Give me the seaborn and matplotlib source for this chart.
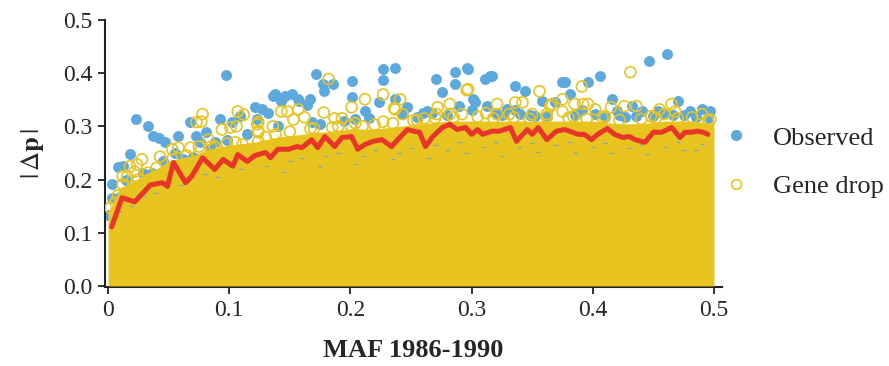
import numpy as np
import pandas as pd
import matplotlib
matplotlib.use('Agg')
import matplotlib.pyplot as plt
import seaborn as sns
from matplotlib.lines import Line2D

BLUE = '#5DA9DD'
YELLOW = '#E8C420'
RED = '#E8352A'

# mean |dp| of gene drop per MAF bin (red line)
mean_x = [0.003, 0.0115, 0.022, 0.035, 0.045, 0.049, 0.054, 0.064, 0.069, 0.078,
          0.088, 0.095, 0.103, 0.107, 0.115, 0.121, 0.130, 0.134, 0.140, 0.149,
          0.156, 0.160, 0.168, 0.173, 0.179, 0.187, 0.193, 0.201, 0.206, 0.212,
          0.219, 0.226, 0.234, 0.239, 0.247, 0.252, 0.257, 0.262, 0.268, 0.276,
          0.282, 0.288, 0.295, 0.300, 0.305, 0.309, 0.317, 0.323, 0.332, 0.337,
          0.346, 0.350, 0.355, 0.362, 0.370, 0.377, 0.388, 0.393, 0.399, 0.404,
          0.412, 0.418, 0.425, 0.430, 0.435, 0.443, 0.450, 0.457, 0.465, 0.472,
          0.476, 0.482, 0.486, 0.491, 0.495]
mean_y = [0.111, 0.166, 0.158, 0.190, 0.194, 0.187, 0.232, 0.194, 0.206, 0.241,
          0.219, 0.238, 0.225, 0.247, 0.234, 0.245, 0.251, 0.241, 0.257, 0.257,
          0.262, 0.260, 0.275, 0.260, 0.281, 0.262, 0.279, 0.281, 0.257, 0.266,
          0.272, 0.275, 0.262, 0.275, 0.294, 0.291, 0.289, 0.262, 0.281, 0.298,
          0.304, 0.294, 0.298, 0.285, 0.294, 0.285, 0.291, 0.291, 0.298, 0.272,
          0.294, 0.285, 0.298, 0.275, 0.291, 0.294, 0.285, 0.285, 0.275, 0.285,
          0.296, 0.285, 0.279, 0.281, 0.275, 0.270, 0.289, 0.289, 0.298, 0.279,
          0.289, 0.289, 0.291, 0.289, 0.285]

# upper edge of the dense cloud of gene drop points
cloud_x = [0.0, 0.005, 0.01, 0.02, 0.03, 0.04, 0.05, 0.06, 0.07, 0.08, 0.09,
           0.10, 0.12, 0.14, 0.16, 0.18, 0.20, 0.22, 0.24, 0.26, 0.28, 0.30,
           0.32, 0.34, 0.36, 0.38, 0.40, 0.42, 0.44, 0.46, 0.48, 0.50]
cloud_y = [0.14, 0.16, 0.185, 0.195, 0.21, 0.22, 0.235, 0.24, 0.245, 0.255, 0.26,
           0.265, 0.27, 0.28, 0.285, 0.29, 0.295, 0.295, 0.30, 0.305, 0.31, 0.31,
           0.31, 0.31, 0.31, 0.31, 0.31, 0.305, 0.305, 0.31, 0.31, 0.305]

# observed |dp| (blue)
obs_x = [0.097, 0.023, 0.033, 0.037, 0.042, 0.047, 0.058, 0.018, 0.008, 0.012,
         0.003, 0.003, 0.068, 0.073, 0.076, 0.081, 0.092, 0.102, 0.098, 0.084,
         0.062, 0.070, 0.121, 0.123, 0.109, 0.029, 0.010, 0.000, 0.036, 0.136,
         0.143, 0.152, 0.158, 0.127, 0.132, 0.164, 0.172, 0.177, 0.186, 0.178,
         0.201, 0.227, 0.237, 0.227, 0.138, 0.146, 0.157, 0.167, 0.201, 0.212,
         0.204, 0.237, 0.247, 0.168, 0.224, 0.243, 0.271, 0.286, 0.297, 0.286,
         0.276, 0.311, 0.317, 0.301, 0.313, 0.336, 0.290, 0.267, 0.329, 0.296,
         0.303, 0.344, 0.375, 0.358, 0.369, 0.263, 0.315, 0.461, 0.446, 0.406,
         0.396, 0.377, 0.381, 0.416, 0.470, 0.441, 0.432, 0.454, 0.480, 0.490,
         0.497, 0.402, 0.427, 0.336, 0.320, 0.348, 0.362, 0.391, 0.422, 0.458,
         0.015, 0.045, 0.055, 0.088, 0.115, 0.140, 0.175, 0.195, 0.215, 0.255,
         0.280, 0.325, 0.352, 0.385, 0.410, 0.436, 0.466, 0.485, 0.495, 0.260,
         0.300, 0.340, 0.420, 0.450, 0.475]
obs_y = [0.396, 0.313, 0.300, 0.281, 0.279, 0.270, 0.281, 0.249, 0.223, 0.225,
         0.191, 0.166, 0.308, 0.281, 0.270, 0.289, 0.313, 0.309, 0.275, 0.257,
         0.238, 0.243, 0.336, 0.313, 0.319, 0.213, 0.168, 0.134, 0.213, 0.358,
         0.347, 0.360, 0.347, 0.332, 0.326, 0.340, 0.398, 0.379, 0.379, 0.366,
         0.385, 0.408, 0.409, 0.387, 0.360, 0.357, 0.351, 0.351, 0.355, 0.328,
         0.313, 0.351, 0.336, 0.309, 0.345, 0.323, 0.389, 0.402, 0.408, 0.379,
         0.364, 0.389, 0.394, 0.351, 0.338, 0.375, 0.338, 0.326, 0.332, 0.409,
         0.345, 0.366, 0.383, 0.347, 0.345, 0.328, 0.394, 0.436, 0.423, 0.394,
         0.383, 0.383, 0.360, 0.351, 0.347, 0.328, 0.338, 0.328, 0.328, 0.332,
         0.328, 0.323, 0.317, 0.330, 0.325, 0.322, 0.320, 0.330, 0.322, 0.326,
         0.200, 0.235, 0.250, 0.270, 0.285, 0.300, 0.305, 0.310, 0.315, 0.318,
         0.322, 0.322, 0.320, 0.322, 0.318, 0.320, 0.322, 0.318, 0.316, 0.325,
         0.330, 0.324, 0.328, 0.320, 0.321]

# gene drop points standing out above the cloud (open yellow)
drop_x = [0.078, 0.077, 0.073, 0.107, 0.112, 0.106, 0.101, 0.094, 0.053, 0.058,
          0.043, 0.053, 0.028, 0.024, 0.018, 0.022, 0.033, 0.012, 0.021, 0.006,
          0.002, 0.068, 0.075, 0.083, 0.088, 0.098, 0.111, 0.119, 0.123, 0.124,
          0.012, 0.016, 0.054, 0.182, 0.143, 0.148, 0.157, 0.153, 0.162, 0.178,
          0.187, 0.193, 0.201, 0.212, 0.227, 0.241, 0.237, 0.243, 0.227, 0.124,
          0.124, 0.124, 0.136, 0.138, 0.167, 0.190, 0.204, 0.210, 0.297, 0.356,
          0.321, 0.342, 0.375, 0.366, 0.282, 0.272, 0.271, 0.282, 0.292, 0.261,
          0.252, 0.350, 0.362, 0.375, 0.331, 0.321, 0.431, 0.391, 0.385, 0.392,
          0.396, 0.426, 0.436, 0.415, 0.465, 0.455, 0.459, 0.468, 0.490, 0.448,
          0.410, 0.384, 0.495, 0.296, 0.336, 0.236, 0.402, 0.365, 0.312]
drop_y = [0.323, 0.309, 0.308, 0.328, 0.322, 0.300, 0.298, 0.294, 0.257, 0.260,
          0.243, 0.238, 0.238, 0.228, 0.225, 0.215, 0.213, 0.191, 0.187, 0.157,
          0.147, 0.260, 0.262, 0.275, 0.262, 0.268, 0.266, 0.257, 0.304, 0.289,
          0.206, 0.206, 0.225, 0.389, 0.328, 0.328, 0.332, 0.313, 0.317, 0.326,
          0.315, 0.315, 0.336, 0.351, 0.360, 0.351, 0.332, 0.323, 0.309, 0.308,
          0.291, 0.272, 0.300, 0.285, 0.296, 0.300, 0.306, 0.300, 0.370, 0.366,
          0.342, 0.345, 0.351, 0.342, 0.342, 0.336, 0.323, 0.323, 0.323, 0.315,
          0.311, 0.323, 0.323, 0.328, 0.323, 0.323, 0.402, 0.375, 0.342, 0.342,
          0.342, 0.338, 0.338, 0.336, 0.342, 0.332, 0.323, 0.328, 0.323, 0.319,
          0.319, 0.319, 0.311, 0.368, 0.345, 0.334, 0.332, 0.338, 0.325]

# gene drop circles piled on the edge of the cloud
edge_x = [0.008, 0.025, 0.040, 0.065, 0.085, 0.105, 0.130, 0.150, 0.170, 0.185,
          0.200, 0.220, 0.235, 0.255, 0.270, 0.285, 0.305, 0.318, 0.335, 0.348,
          0.362, 0.380, 0.395, 0.408, 0.422, 0.440, 0.452, 0.470, 0.482, 0.497]
edge_y = [0.170, 0.200, 0.222, 0.245, 0.262, 0.270, 0.280, 0.290, 0.296, 0.298,
          0.302, 0.303, 0.306, 0.312, 0.316, 0.317, 0.318, 0.315, 0.317, 0.314,
          0.318, 0.316, 0.314, 0.317, 0.312, 0.314, 0.316, 0.315, 0.317, 0.313]

# tiny specks of observed points showing through the cloud
speck_x = [0.010, 0.020, 0.030, 0.040, 0.060, 0.080, 0.090, 0.110, 0.130, 0.150,
           0.160, 0.180, 0.190, 0.210, 0.220, 0.240, 0.250, 0.270, 0.280, 0.290,
           0.310, 0.320, 0.340, 0.350, 0.370, 0.380, 0.400, 0.410, 0.430, 0.440,
           0.460, 0.470, 0.490, 0.145, 0.205, 0.265, 0.325, 0.385, 0.445, 0.485,
           0.175, 0.235, 0.295, 0.355, 0.415, 0.475]
speck_y = [0.140, 0.150, 0.170, 0.175, 0.190, 0.210, 0.205, 0.220, 0.225, 0.235,
           0.240, 0.245, 0.250, 0.245, 0.255, 0.250, 0.260, 0.265, 0.255, 0.270,
           0.262, 0.270, 0.262, 0.268, 0.265, 0.270, 0.262, 0.268, 0.260, 0.266,
           0.262, 0.270, 0.266, 0.215, 0.230, 0.240, 0.245, 0.250, 0.248, 0.255,
           0.225, 0.238, 0.250, 0.252, 0.250, 0.255]

sns.set_style('ticks')
plt.rcParams['font.family'] = ['Liberation Serif', 'DejaVu Serif']
plt.rcParams['mathtext.fontset'] = 'stix'

fig = plt.figure(figsize=(8.89, 3.66), dpi=100)
ax = fig.add_axes([0.1181, 0.2158, 0.694, 0.7296])

obs = pd.DataFrame({'maf': obs_x, 'dp': obs_y})
drop = pd.DataFrame({'maf': drop_x + edge_x, 'dp': drop_y + edge_y})
mean = pd.DataFrame({'maf': mean_x, 'dp': mean_y})

sns.scatterplot(data=obs, x='maf', y='dp', ax=ax, color=BLUE, s=62,
                linewidth=0, zorder=2, legend=False)
ax.scatter(speck_x, speck_y, marker='_', s=9, color=BLUE, linewidths=1.0,
           alpha=0.8, zorder=3.5)
ax.fill_between(cloud_x, 0, cloud_y, color=YELLOW, linewidth=0, zorder=3)
sns.scatterplot(data=drop, x='maf', y='dp', ax=ax, facecolor='none',
                edgecolor=YELLOW, s=62, linewidth=1.2, zorder=4, legend=False)
sns.lineplot(data=mean, x='maf', y='dp', ax=ax, color=RED, linewidth=3.6,
             sort=False, zorder=5)

ax.set_xlim(-0.0025, 0.5066)
ax.set_ylim(-0.002, 0.5)
ax.set_xticks([0, 0.1, 0.2, 0.3, 0.4, 0.5])
ax.set_xticklabels(['0', '0.1', '0.2', '0.3', '0.4', '0.5'])
ax.set_yticks([0, 0.1, 0.2, 0.3, 0.4, 0.5])
ax.set_yticklabels(['0.0', '0.1', '0.2', '0.3', '0.4', '0.5'])
ax.tick_params(labelsize=17, width=1.3, length=5, color='#222222', pad=4)
for side in ['left', 'bottom']:
    ax.spines[side].set_linewidth(1.5)
    ax.spines[side].set_color('#222222')
sns.despine(ax=ax)

ax.set_xlabel('MAF 1986-1990', fontsize=19, fontweight='bold', labelpad=13)
ax.set_ylabel(r'$|\,\Delta\mathbf{p}\,|$', fontsize=19, labelpad=12)

handles = [Line2D([], [], linestyle='none', marker='o', markersize=7,
                  markerfacecolor=BLUE, markeredgecolor=BLUE),
           Line2D([], [], linestyle='none', marker='o', markersize=7,
                  markerfacecolor='none', markeredgecolor=YELLOW,
                  markeredgewidth=1.2)]
fig.legend(handles, ['Observed', 'Gene drop'], loc='center left',
           bbox_to_anchor=(0.813, 0.557), frameon=False, fontsize=19,
           handletextpad=0.9, labelspacing=0.95, handlelength=1.0,
           borderaxespad=0, borderpad=0)

fig.savefig('out.png', dpi=100)
